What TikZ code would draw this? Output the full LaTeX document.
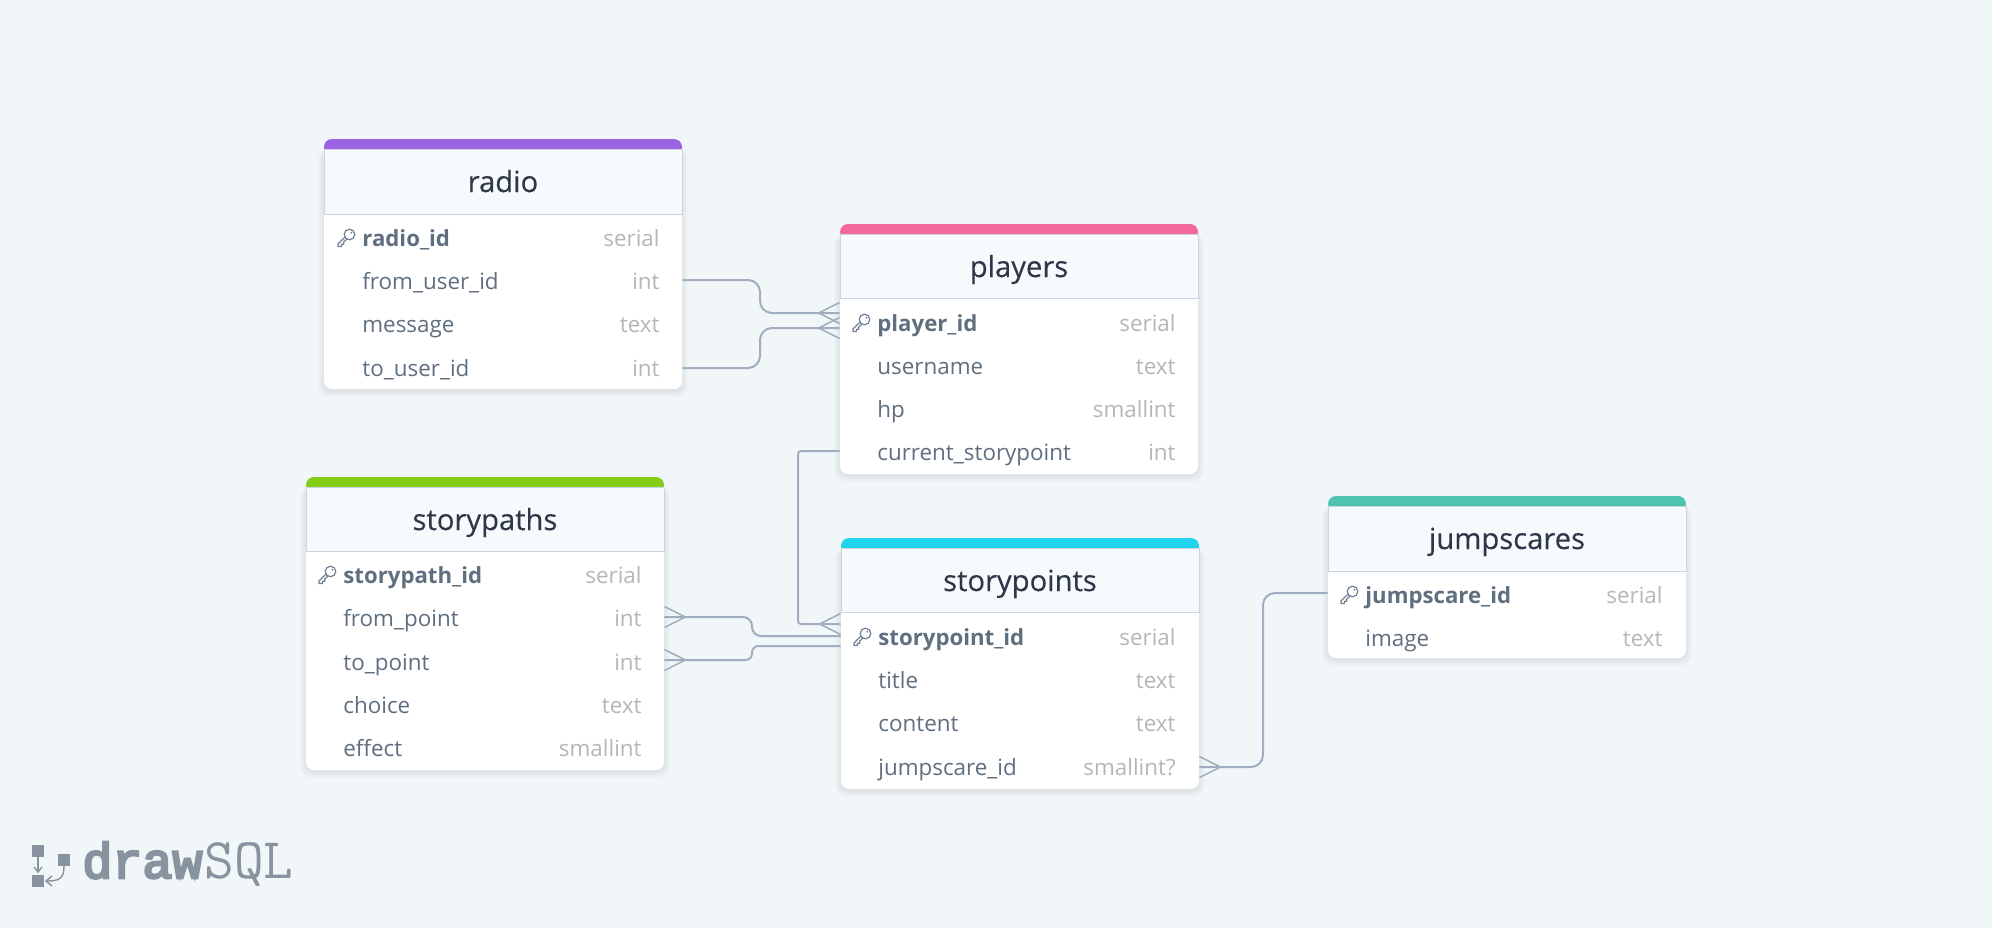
\documentclass[tikz,border=0pt]{standalone}
\usepackage{fontspec}
\setmainfont{Open Sans}
\newfontfamily\logobold[FakeBold=5]{Liberation Mono}
\newfontfamily\titlefont[FakeBold=.25]{Open Sans}
\usetikzlibrary{calc}
\definecolor{bgc}{HTML}{F1F6F9}
\definecolor{linec}{HTML}{A0AEC0}
\definecolor{headc}{HTML}{F7FAFC}
\definecolor{headb}{HTML}{CBD5E0}
\definecolor{titlec}{HTML}{2D3748}
\definecolor{rowc}{HTML}{5F6F80}
\definecolor{typec}{HTML}{B4B7BA}
\definecolor{keyc}{HTML}{718096}
\definecolor{logoc}{HTML}{87939F}
\definecolor{cpurple}{HTML}{9B62E3}
\definecolor{cpink}{HTML}{F5689B}
\definecolor{cgreen}{HTML}{84CC16}
\definecolor{ccyan}{HTML}{22D3EE}
\definecolor{cteal}{HTML}{4FC3B2}
\tikzset{
  conn/.style={draw=linec,line width=1pt,rounded corners=6pt},
  connmid/.style={draw=linec,line width=1pt,rounded corners=4.5pt},
  connsmall/.style={draw=linec,line width=1pt,rounded corners=3.2pt},
  connsharp/.style={draw=linec,line width=1pt,rounded corners=1.5pt},
  crowleg/.style={draw=linec,line width=.75pt},
  rowname/.style={anchor=base west,inner sep=0pt,text=rowc,font=\fontsize{11.2}{13}\selectfont},
  pkname/.style={rowname,font=\fontsize{11.1}{13}\selectfont\bfseries},
  rowtype/.style={anchor=base east,inner sep=0pt,text=typec,font=\fontsize{11.2}{13}\selectfont},
  cardbody/.style={fill=white,rounded corners=4pt,inner sep=0pt},
  headbox/.style={fill=headc,draw=headb,line width=.5pt,inner sep=0pt},
  titletext/.style={anchor=base,inner sep=0pt,text=titlec,font=\titlefont\fontsize{14.6}{17}\selectfont},
}
% id, left, top, header bottom, bottom, colour, title
\newcommand{\erdtable}[7]{
  \foreach \s in {1,...,6}{
    \fill[black,opacity=.011,rounded corners=5pt] (#2-\s,#3+10) rectangle (#2+358+\s,#5+\s+2);
  }
  \node[cardbody,minimum width=179pt,minimum height={(#5-#3)*.5pt}] (#1) at (#2+179,{(#3+#5)/2}) {};
  \fill[#6,rounded corners=4pt] (#2,#3+16) -- (#2,#3) -- (#2+358,#3) -- (#2+358,#3+16) -- cycle;
  \node[headbox,minimum width=179pt,minimum height={(#4-#3-10)*.5pt}] (#1head) at (#2+179,{(#3+10+#4)/2}) {};
  \node[titletext] (#1title) at (#2+179,#3+53) {#7};
}
% key: centre x, y
\newcommand{\erdkey}[2]{
  \begin{scope}[shift={(#1,#2)},draw=keyc,line width=.6pt,line join=round]
    \draw (3.5,-3.5) circle[radius=5.3];
    \fill[keyc] (5.3,-5.3) circle[radius=1];
    \draw (-.9,-1) -- (-8,6) -- (-8,8.5) -- (-4.5,8.5) -- (-4.5,6.2) -- (-2.3,6.2) -- (-2.3,4) -- (1,1.1);
  \end{scope}
}
% name, x of text, baseline, right x of type, text, type
\newcommand{\erdpk}[6]{
  \erdkey{#2-16}{#3-9}
  \node[pkname] (#1) at (#2,#3-1) {#5};
  \node[rowtype] (#1t) at (#4,#3-1) {#6};
}
\newcommand{\erdrow}[6]{
  \node[rowname] (#1) at (#2,#3-1) {#5};
  \node[rowtype] (#1t) at (#4,#3-1) {#6};
}
\begin{document}
\begin{tikzpicture}[x=.5pt,y=-.5pt]
\useasboundingbox (0,0) rectangle (1992,928);
\fill[bgc] (0,0) rectangle (1992,928);

% tables
\erdtable{radio}{324}{139}{214}{389}{cpurple}{radio}
\erdpk{radioid}{362}{247}{660}{radio\_id}{serial}
\erdrow{radiofrom}{362}{290}{660}{from\_user\_id}{int}
\erdrow{radiomsg}{362}{333}{660}{message}{text}
\erdrow{radioto}{362}{377}{660}{to\_user\_id}{int}

\erdtable{players}{840}{224}{298}{474}{cpink}{players}
\erdpk{playerid}{877}{332}{1176}{player\_id}{serial}
\erdrow{playername}{877}{375}{1176}{username}{text}
\erdrow{playerhp}{877}{418}{1176}{hp}{smallint}
\erdrow{playercur}{877}{461}{1176}{current\_storypoint}{int}

\erdtable{paths}{306}{477}{551}{770}{cgreen}{storypaths}
\erdpk{pathid}{343}{584}{642}{storypath\_id}{serial}
\erdrow{pathfrom}{343}{627}{642}{from\_point}{int}
\erdrow{pathto}{343}{671}{642}{to\_point}{int}
\erdrow{pathchoice}{343}{714}{642}{choice}{text}
\erdrow{patheffect}{343}{757}{642}{effect}{smallint}

\erdtable{points}{841}{538}{612}{789}{ccyan}{storypoints}
\erdpk{pointid}{878}{646}{1176}{storypoint\_id}{serial}
\erdrow{pointtitle}{878}{689}{1176}{title}{text}
\erdrow{pointcontent}{878}{732}{1176}{content}{text}
\erdrow{pointjump}{878}{776}{1176}{jumpscare\_id}{smallint?}

\erdtable{jump}{1328}{496}{571}{658}{cteal}{jumpscares}
\erdpk{jumpid}{1365}{604}{1663}{jumpscare\_id}{serial}
\erdrow{jumpimage}{1365}{647}{1663}{image}{text}

% connector ends
\coordinate (cRadioFrom) at (radio.east |- 0,280);
\coordinate (cRadioTo) at (radio.east |- 0,368);
\coordinate (cPlayA) at (players.west |- 0,313);
\coordinate (cPlayB) at (players.west |- 0,328);
\coordinate (cPlayCur) at (players.west |- 0,451);
\coordinate (cPathFrom) at (paths.east |- 0,617);
\coordinate (cPathTo) at (paths.east |- 0,660);
\coordinate (cPointA) at (points.west |- 0,624);
\coordinate (cPointB) at (points.west |- 0,636);
\coordinate (cPointC) at (points.west |- 0,646);
\coordinate (cPointJump) at (points.east |- 0,767);
\coordinate (cJumpId) at (jump.west |- 0,593);

% connectors
\draw[conn] (cRadioFrom) -- (760,280) -- (760,313) -- (cPlayA);
\draw[conn] (cRadioTo) -- (760,368) -- (760,328) -- (cPlayB);
\draw[connsharp] (cPlayCur) -- (798,451) -- (798,624) -- (cPointA);
\draw[connmid] (cPathFrom) -- (752,617) -- (752,636) -- (cPointB);
\draw[connsmall] (cPathTo) -- (752,660) -- (752,646) -- (cPointC);
\draw[conn] (cPointJump) -- (1263,767) -- (1263,593) -- (cJumpId);

% crow's feet
\draw[crowleg] ($(cPlayA)+(0,-10.5)$) -- ($(cPlayA)+(-21,0)$) -- ($(cPlayA)+(0,10.5)$);
\draw[crowleg] ($(cPlayB)+(0,-10.5)$) -- ($(cPlayB)+(-21,0)$) -- ($(cPlayB)+(0,10.5)$);
\draw[crowleg] ($(cPointA)+(0,-10.5)$) -- ($(cPointA)+(-21,0)$) -- ($(cPointA)+(0,10.5)$);
\draw[crowleg] ($(cPathFrom)+(0,-10.5)$) -- ($(cPathFrom)+(21,0)$) -- ($(cPathFrom)+(0,10.5)$);
\draw[crowleg] ($(cPathTo)+(0,-10.5)$) -- ($(cPathTo)+(21,0)$) -- ($(cPathTo)+(0,10.5)$);
\draw[crowleg] ($(cPointJump)+(0,-10.5)$) -- ($(cPointJump)+(21,0)$) -- ($(cPointJump)+(0,10.5)$);

% logo
\fill[logoc] (32,845) rectangle (44,857);
\fill[logoc] (32,875) rectangle (44,887);
\fill[logoc] (58,854) rectangle (70,866);
\draw[logoc,line width=.7pt] (38,857) -- (38,871);
\draw[logoc,line width=.7pt] (34,867) -- (38,872) -- (42,867);
\draw[logoc,line width=.7pt] (64,866) .. controls (64,878) and (60,881) .. (47,881);
\draw[logoc,line width=.7pt] (52,876) -- (46,881) -- (52,886);
\node[anchor=base west,inner sep=0pt,text=logoc,font=\logobold\fontsize{25}{25}\selectfont] (logodraw) at (82,878) {draw};
\node[anchor=base west,inner sep=0pt,text=logoc,font=\ttfamily\fontsize{28.8}{28}\selectfont] (logosql) at (204,878) {SQL};
\end{tikzpicture}
\end{document}
